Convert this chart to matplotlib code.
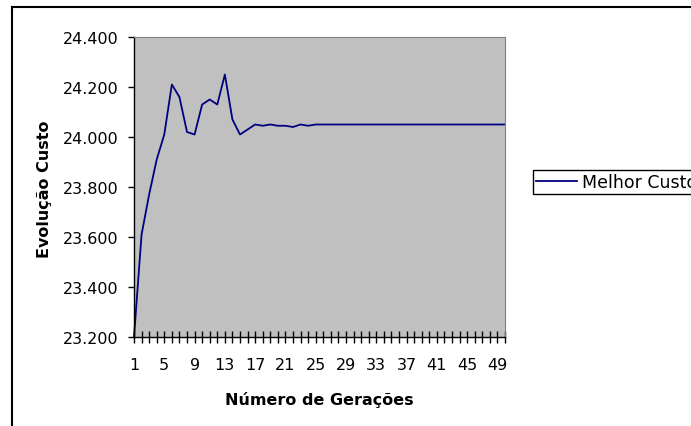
import matplotlib
matplotlib.use('Agg')
import matplotlib.pyplot as plt
from matplotlib.lines import Line2D

# generations (x categories) and best cost per generation
geracoes = list(range(1, 51))
melhor_custo = [23200, 23610, 23770, 23910, 24010, 24210, 24160, 24020, 24010, 24130,
                24150, 24130, 24250, 24070, 24010, 24030, 24050, 24045, 24050, 24045,
                24045, 24040, 24050, 24045, 24050, 24050, 24050, 24050, 24050, 24050,
                24050, 24050, 24050, 24050, 24050, 24050, 24050, 24050, 24050, 24050,
                24050, 24050, 24050, 24050, 24050, 24050, 24050, 24050, 24050, 24050]
y_ticks = [23200, 23400, 23600, 23800, 24000, 24200, 24400]
x_labels = [str(g) if (g - 1) % 4 == 0 else '' for g in geracoes]

W, H = 691, 427
fig = plt.figure(figsize=(W / 100, H / 100), dpi=100)
ax = fig.add_axes([134 / W, 1 - 338 / H, 371 / W, 300 / H])
ax.set_facecolor('#C0C0C0')

ax.plot(geracoes, melhor_custo, color='#000080', lw=1.3, label='Melhor Custo', clip_on=False)

ax.set_xlim(1, 50)
ax.set_ylim(23200, 24400)
ax.set_xticks(geracoes)
ax.set_xticklabels(x_labels, fontsize=11.5)
ax.set_yticks(y_ticks)
ax.set_yticklabels([f'{v:,.0f}'.replace(',', '.') for v in y_ticks], fontsize=11.5)
ax.tick_params(axis='x', direction='inout', length=8, width=1, pad=10.5)
ax.tick_params(axis='y', direction='out', length=4.3, width=1, pad=6.5)

for s in ['top', 'right']:
    ax.spines[s].set_color('#808080')
for s in ['left', 'bottom']:
    ax.spines[s].set_color('black')
    ax.spines[s].set_linewidth(1)

fig.text(45 / W, 1 - 189 / H, 'Evolução Custo', rotation=90, ha='center', va='center',
         fontsize=11.5, fontweight='bold')
fig.text(319.5 / W, 1 - 400 / H, 'Número de Gerações', ha='center', va='center',
         fontsize=11.5, fontweight='bold')

leg = ax.legend(loc='center left', bbox_to_anchor=(533 / W, 1 - 183 / H),
                bbox_transform=fig.transFigure, frameon=True, fancybox=False,
                edgecolor='black', framealpha=1, borderpad=0.2, handlelength=2.35,
                handletextpad=0.3, borderaxespad=0, fontsize=12.5)
leg.get_frame().set_linewidth(1.0)

# outer chart border (clipped by the image edge on the right and bottom)
fig.add_artist(Line2D([12 / W, 12 / W], [0, 1 - 7.5 / H], color='black', lw=1.5,
                      transform=fig.transFigure))
fig.add_artist(Line2D([12 / W, 1], [1 - 7.5 / H, 1 - 7.5 / H], color='black', lw=1.5,
                      transform=fig.transFigure))

fig.savefig('out.png', dpi=100)
plt.close('all')
